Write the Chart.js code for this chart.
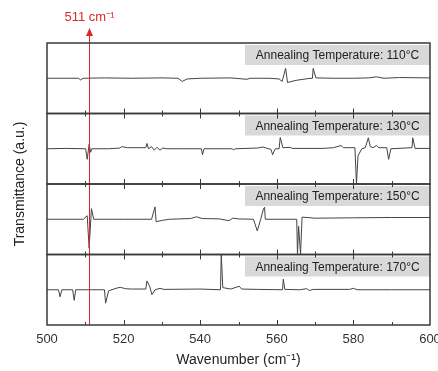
<!DOCTYPE html>
<html>
<head>
<meta charset="utf-8">
<script src="https://cdn.jsdelivr.net/npm/chart.js@4"></script>
<style>
    html, body { margin: 0; padding: 0; background: #fff; }
    canvas { display: block; }
</style>
</head>
<body>
<canvas id="chart" width="438" height="371"></canvas>
<script>
// Annealing temperatures, one panel each (top to bottom)
const temps = [110, 130, 150, 170];

// Wavenumber ticks
const xMin = 500;
const xMax = 600;
const xStep = 20;
const markerWavenumber = 511;

// Spectra: [wavenumber, relative transmittance]
const spectrum110 = [
    [500, 0], [508.2, 0], [508.8, -0.05], [509.4, 0], [515, 0.01], [522, 0], [530, 0.01],
    [534.2, 0], [535.3, -0.09], [536.6, -0.02], [540, 0], [548, 0.01], [552.2, -0.03], [553, 0],
    [558, 0], [560.6, -0.02], [561.4, -0.09], [562.3, 0.28], [562.8, -0.12], [565, -0.06],
    [568.1, -0.01], [569.3, 0], [569.5, 0.28], [570.2, 0.01], [575, 0], [580, 0], [584, 0.01],
    [586, 0.04], [588, 0], [592, 0.02], [600, 0.01]
];
const spectrum130 = [
    [500, 0], [505, 0.01], [510.1, 0], [510.5, -0.3], [511.0, 0.13], [511.4, -0.1], [511.7, 0],
    [516, 0], [519.0, 0.02], [519.5, 0.06], [521, 0.03], [525.8, 0.03], [526.1, 0.15], [526.5, 0],
    [527.3, 0.06], [528, -0.04], [528.7, 0.04], [529.5, -0.04], [530.2, 0.02], [531.3, 0],
    [535, 0], [540.3, 0], [540.6, -0.17], [541, 0], [548.3, 0], [548.7, -0.03], [549.2, 0],
    [555, 0.02], [556.3, 0.05], [558.5, -0.02], [558.9, -0.17], [559.6, 0], [560.6, 0],
    [560.9, 0.32], [561.6, 0.03], [563.5, 0.04], [564, 0.01], [572, 0.01], [574.8, 0.03],
    [576.8, 0.09], [577.4, 0.03], [580.4, 0.03], [580.8, -1.0], [581.2, -0.2], [582.2, 0],
    [583.1, 0.03], [583.9, 0.31], [584.4, 0.06], [585.1, 0.03], [586.0, 0.09], [586.6, 0.03],
    [588.7, 0.03], [589.2, -0.3], [589.8, 0], [595.3, 0.03], [595.5, 0.31], [596.1, 0.01], [600, 0.01]
];
const spectrum150 = [
    [500, 0], [509.5, 0], [510.5, 0.1], [511.0, -0.82], [511.6, 0.3], [512.2, 0], [520, 0],
    [527.3, 0], [528.2, 0.35], [528.5, -0.07], [530.2, -0.03], [532, 0], [537.5, 0.02],
    [539.0, 0.07], [540.5, 0.02], [545, 0.01], [547.5, -0.04], [548.5, 0.03], [550, 0.01],
    [553.9, 0], [554.9, -0.33], [555.8, 0], [556.5, 0.29], [556.8, 0.34], [557.0, 0],
    [565.2, 0], [565.4, -1.0], [565.7, -0.2], [566.2, -1.0], [566.6, 0.06], [570, 0.03],
    [580, 0.04], [590, 0.05], [600, 0.05]
];
const spectrum170 = [
    [500, 0], [503.0, 0], [503.4, -0.2], [503.9, 0], [506.7, 0], [507.1, -0.3], [507.5, 0],
    [515.0, 0], [515.3, -0.38], [516.1, -0.03], [518, 0.04], [519.1, 0.07], [520.5, 0.03],
    [522, 0.02], [525.8, 0.02], [526.1, 0.25], [526.8, 0.1], [527.4, -0.14], [528.2, 0],
    [529.5, 0.04], [530.5, 0.01], [540, 0.02], [545.3, 0], [545.5, 1.0], [545.9, 0.06],
    [548, 0.02], [550.2, 0.1], [550.8, 0.02], [555, 0.01], [561.5, 0], [561.7, 0.3],
    [562.1, 0.01], [566, 0], [567.8, 0.03], [568.5, -0.02], [569.5, 0.01], [579, 0.01],
    [580, 0.04], [581, 0], [590, 0], [600, 0]
];
const spectra = [spectrum110, spectrum130, spectrum150, spectrum170];

const FONT = '"Liberation Sans", Arial, Helvetica, sans-serif';
const AXIS_COLOR = '#3a3a3a';
const RED = '#e0262b';

// One stacked y scale per panel; the stack is filled bottom-up, so add in reverse
const yScales = {};
temps.slice().reverse().forEach(t => {
    yScales['p' + t] = {
        type: 'linear',
        position: 'left',
        stack: 'panels',
        stackWeight: 1,
        min: -1,
        max: 1,
        ticks: { display: false },
        grid: { display: false, drawTicks: false },
        border: { display: false }
    };
});

// Panel frames, inward ticks, labels and the 511 marker
const panelPlugin = {
    id: 'panels',
    afterDatasetsDraw(chart) {
        const { ctx, chartArea, scales } = chart;
        const xs = scales.x;
        const px = Math.round(xs.getPixelForValue(markerWavenumber)) + 0.5;
        ctx.save();

        // 511 marker line
        ctx.strokeStyle = RED;
        ctx.lineWidth = 1;
        ctx.beginPath();
        ctx.moveTo(px, chartArea.bottom);
        ctx.lineTo(px, 34);
        ctx.stroke();

        temps.forEach((t, i) => {
            const ys = scales['p' + t];
            const top = ys.top;
            const bottom = ys.bottom;

            // Label box
            const boxW = 185;
            const boxH = 20;
            ctx.fillStyle = '#d9d9d9';
            ctx.fillRect(chartArea.right - boxW, top + 2, boxW, boxH);
            ctx.fillStyle = '#222';
            ctx.font = '12px ' + FONT;
            ctx.textAlign = 'center';
            ctx.textBaseline = 'middle';
            ctx.fillText(`Annealing Temperature: ${t}°C`, chartArea.right - boxW / 2, top + 2 + boxH / 2 + 1);

            // Inward ticks
            ctx.strokeStyle = AXIS_COLOR;
            ctx.lineWidth = 1;
            for (let v = xMin + 10; v < xMax; v += 10) {
                const x = Math.round(xs.getPixelForValue(v)) + 0.5;
                const len = v % xStep === 0 ? 5 : 3;
                ctx.beginPath();
                ctx.moveTo(x, bottom);
                ctx.lineTo(x, bottom - len);
                if (i > 0) {
                    ctx.moveTo(x, top);
                    ctx.lineTo(x, top + len);
                }
                ctx.stroke();
            }

            // Frame
            ctx.lineWidth = 1.5;
            ctx.strokeRect(chartArea.left, top, chartArea.right - chartArea.left, bottom - top);
        });

        // Arrow head and marker label
        ctx.fillStyle = RED;
        ctx.beginPath();
        ctx.moveTo(px, 28);
        ctx.lineTo(px - 3.5, 36);
        ctx.lineTo(px + 3.5, 36);
        ctx.closePath();
        ctx.fill();
        ctx.font = '13px ' + FONT;
        ctx.textAlign = 'center';
        ctx.textBaseline = 'middle';
        ctx.fillText('511 cm⁻¹', px, 17);

        // Y title
        ctx.fillStyle = '#222';
        ctx.font = '14px ' + FONT;
        ctx.translate(20, (chartArea.top + chartArea.bottom) / 2);
        ctx.rotate(-Math.PI / 2);
        ctx.fillText('Transmittance (a.u.)', 0, 0);
        ctx.restore();
    }
};

new Chart(document.getElementById('chart'), {
    type: 'line',
    data: {
        datasets: spectra.map((s, i) => ({
            label: temps[i] + '°C',
            data: s,
            yAxisID: 'p' + temps[i],
            borderColor: '#444',
            borderWidth: 1,
            pointRadius: 0,
            tension: 0
        }))
    },
    options: {
        responsive: false,
        devicePixelRatio: 1,
        animation: false,
        layout: { padding: { left: 47, right: 8, top: 43, bottom: 0 } },
        plugins: {
            legend: { display: false },
            tooltip: { enabled: false }
        },
        scales: {
            x: {
                type: 'linear',
                position: 'bottom',
                min: xMin,
                max: xMax,
                ticks: {
                    stepSize: xStep,
                    padding: 7,
                    color: '#333',
                    font: { family: FONT, size: 13 }
                },
                grid: { display: false, drawTicks: false },
                border: { display: false },
                title: {
                    display: true,
                    text: 'Wavenumber (cm⁻¹)',
                    color: '#222',
                    font: { family: FONT, size: 14 },
                    padding: { top: 5, bottom: 2 }
                },
                afterFit(scale) {
                    scale.height = 46;
                    scale.paddingLeft = 0;
                    scale.paddingRight = 0;
                }
            },
            ...yScales
        }
    },
    plugins: [panelPlugin]
});
</script>
</body>
</html>
